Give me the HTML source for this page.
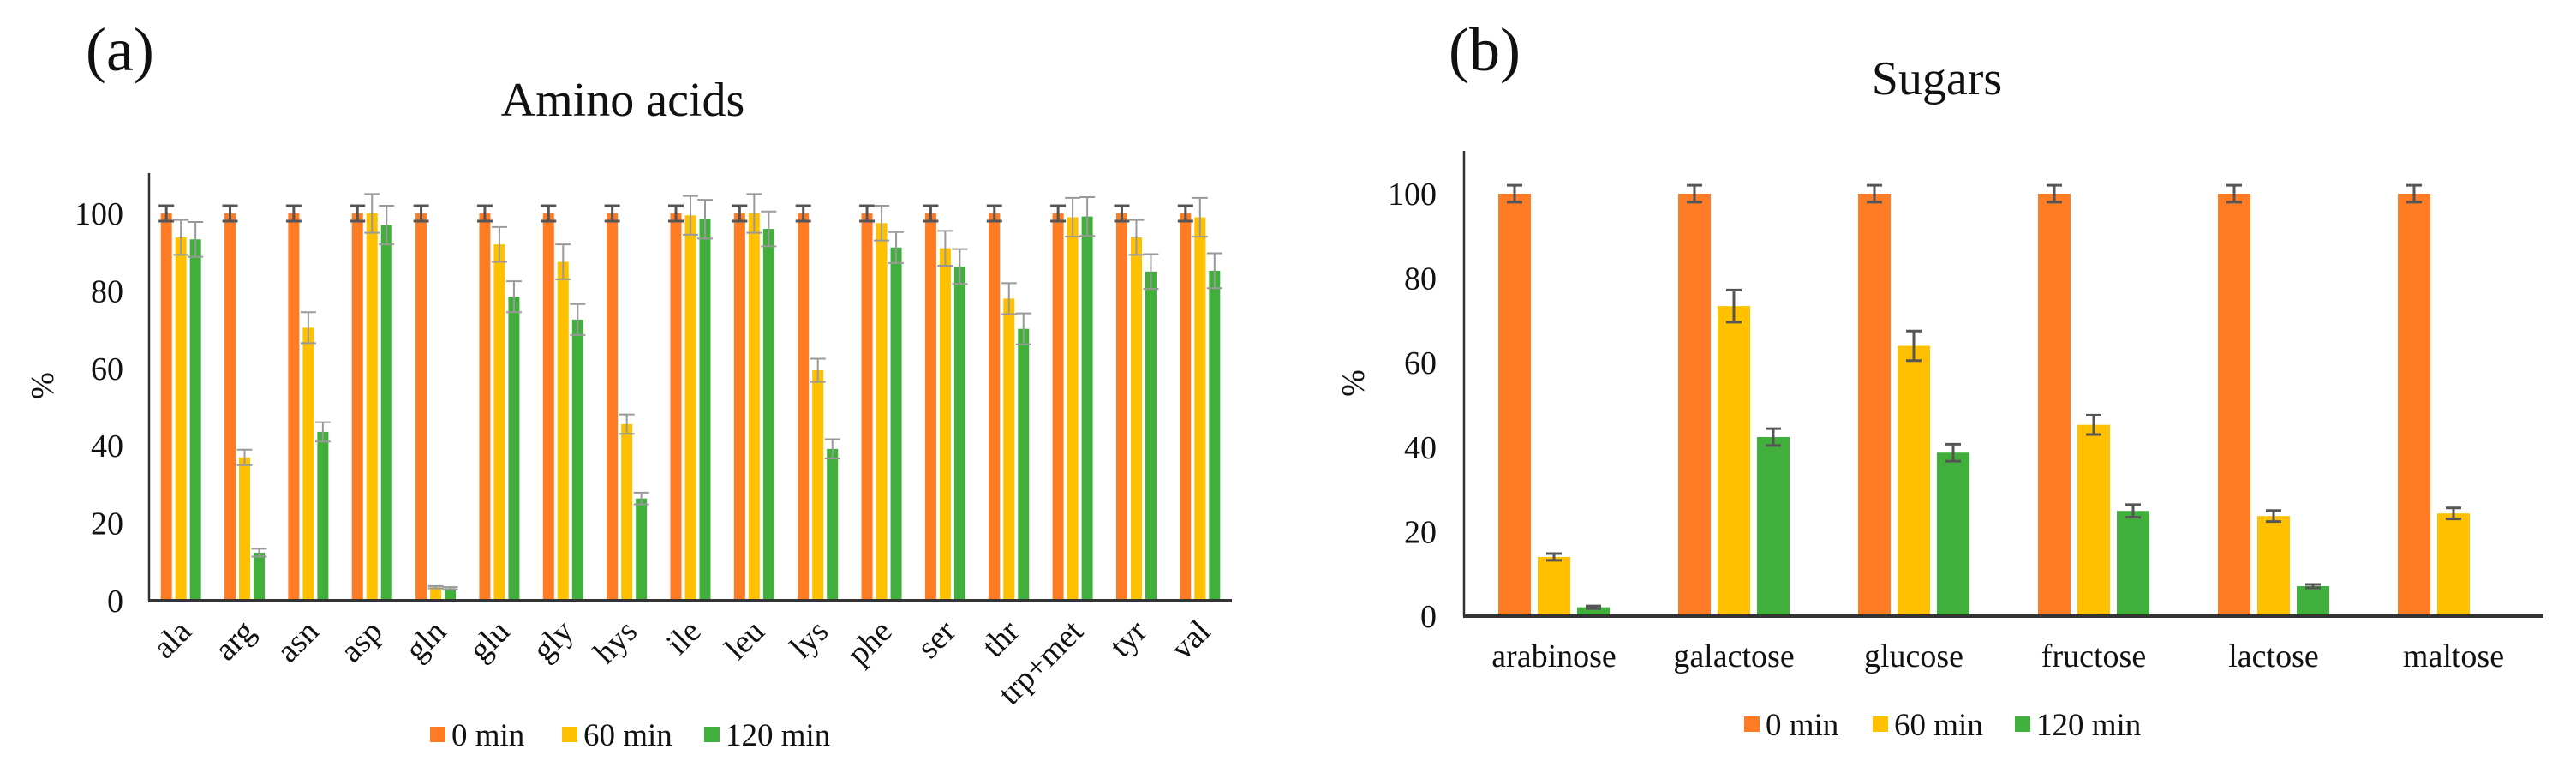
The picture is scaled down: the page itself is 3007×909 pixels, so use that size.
<!DOCTYPE html>
<html><head><meta charset="utf-8"><style>
html,body{margin:0;padding:0;background:#fff;}
svg, svg text{font-family:"Liberation Serif","DejaVu Serif",serif;}
</style></head><body>
<svg id="fig" width="3007" height="904" viewBox="0 0 3007 904" xmlns="http://www.w3.org/2000/svg" font-family="Liberation Serif, DejaVu Serif, serif"></svg>
<script>
const aaCats=["ala","arg","asn","asp","gln","glu","gly","hys","ile","leu","lys","phe","ser","thr","trp+met","tyr","val"];
const aa0=[100,100,100,100,100,100,100,100,100,100,100,100,100,100,100,100,100];
const aa60=[93.8,37,70.5,100,3.5,92,87.5,45.6,99.5,100,59.5,97.5,91,78,99,93.8,99];
const aa120=[93.3,12.4,43.6,97,3.2,78.5,72.6,26.4,98.5,96,39.2,91.2,86.3,70.2,99.2,85,85.2];
const aa0Err=[2,2,2,2,2,2,2,2,2,2,2,2,2,2,2,2,2];
const aa60Err=[4.5,2,4,5,0.3,4.5,4.5,2.5,5,5,3,4.5,4.5,4,5,4.5,5];
const aa120Err=[4.5,1,2.5,5,0.3,4,4,1.5,5,4.5,2.5,4,4.5,4,5,4.5,4.5];
const sgCats=["arabinose","galactose","glucose","fructose","lactose","maltose"];
const sg0=[100,100,100,100,100,100];
const sg60=[14,73.4,64,45.3,23.7,24.3];
const sg120=[2.1,42.4,38.7,24.9,7.1,0];
const sg0Err=[2,2,2,2,2,2];
const sg60Err=[0.8,3.8,3.5,2.3,1.3,1.3];
const sg120Err=[0.3,2,2,1.5,0.4,0];
const yTicks=[0,20,40,60,80,100];
const seriesNames=["0 min","60 min","120 min"];
const colors=["#FF7C24","#FFC000","#41AF3B"];

const NS="http://www.w3.org/2000/svg";
const FONT="Liberation Serif, DejaVu Serif, serif";
const svg=document.getElementById("fig");
function mk(tag,attrs,parent,text){const e=document.createElementNS(NS,tag);for(const k in attrs)e.setAttribute(k,attrs[k]);if(tag==="text")e.setAttribute("font-family",FONT);if(text!==undefined)e.textContent=text;(parent||svg).appendChild(e);return e;}

function chart(cfg){
  const g=mk("g",{});
  
  
  const y=v=>cfg.y0-(v/100)*(cfg.y0-cfg.y100);
  const step=(cfg.x1-cfg.x0)/cfg.cats.length;
  const cx=i=>cfg.x0+step*(i+0.5);
  const t=mk("text",{x:cfg.titleX,y:cfg.titleY,"font-size":56,"text-anchor":"middle",fill:"#111"},g,cfg.title);
  
  
  const p=mk("text",{x:cfg.panelX,y:cfg.panelY,"font-size":72,fill:"#111"},g,cfg.panel);
  
  
  const yl=mk("text",{x:0,y:0,"font-size":38,"text-anchor":"middle",fill:"#111",transform:`translate(${cfg.pctX},${cfg.pctY}) rotate(-90)`},g,"%");
  
  
  yTicks.forEach(v=>{
    const tt=mk("text",{x:cfg.tickX,y:y(v)+13,"font-size":38,"text-anchor":"end",fill:"#111"},g,String(v));
    
    
  });
  const vals=[cfg.s0,cfg.s60,cfg.s120], errs=[cfg.e0,cfg.e60,cfg.e120];
  cfg.cats.forEach((c,i)=>{
    for(let s=0;s<3;s++){
      const v=vals[s][i];
      const bx=cx(i)+(s-1)*cfg.bs-cfg.bw/2;
      if(v>0){
        const r=mk("rect",{x:bx,y:y(v),width:cfg.bw,height:y(0)-y(v),fill:colors[s]},g);
        
        
        const e=errs[s][i];
        if(e>0){
          const m=bx+cfg.bw/2, hw=cfg.cap;
          const eb=mk("path",{d:`M${m},${y(v+e)}V${y(v-e)}M${m-hw},${y(v+e)}H${m+hw}M${m-hw},${y(v-e)}H${m+hw}`,stroke:s===0||cfg.darkErr?"#555":"#999","stroke-width":s===0||cfg.darkErr?3:2,fill:"none"},g);
          
          
        }
      }
    }
    let lab;
    if(cfg.rot){
      lab=mk("text",{x:0,y:0,"font-size":38,"text-anchor":"end",fill:"#111",transform:`translate(${cx(i)+14},${cfg.y0+38}) rotate(-45)`},g,c);
    }else{
      lab=mk("text",{x:cx(i),y:cfg.catY,"font-size":38,"text-anchor":"middle",fill:"#111"},g,c);
    }
    
    
  });
  const ya=mk("line",{x1:cfg.x0,y1:cfg.yTop,x2:cfg.x0,y2:cfg.y0,stroke:"#333","stroke-width":2.5},g);
  
  
  const xa=mk("line",{x1:cfg.x0-1,y1:cfg.y0,x2:cfg.x1,y2:cfg.y0,stroke:"#333","stroke-width":4},g);
  
  
  cfg.leg.forEach((lx,s)=>{
    const lg=mk("g",{},g);
    
    
    mk("rect",{x:lx,y:cfg.legY-9,width:18,height:18,fill:colors[s]},lg);
    mk("text",{x:lx+25,y:cfg.legY+13,"font-size":37,fill:"#111"},lg,seriesNames[s]);
  });
}

chart({name:"amino-acids-chart",title:"Amino acids",titleX:727,titleY:135,panel:"(a)",panelX:100,panelY:82,
  pctX:62,pctY:450,tickX:144,x0:174,x1:1438,y0:701,y100:249,yTop:202,cats:aaCats,
  s0:aa0,s60:aa60,s120:aa120,e0:aa0Err,e60:aa60Err,e120:aa120Err,bw:13,bs:17,cap:9,rot:true,
  legY:857,leg:[502,656,822]});
chart({name:"sugars-chart",title:"Sugars",titleX:2261,titleY:110,panel:"(b)",panelX:1691,panelY:82,
  pctX:1592,pctY:447,tickX:1677,x0:1709,x1:2969,y0:719,y100:226,yTop:176,cats:sgCats,
  s0:sg0,s60:sg60,s120:sg120,e0:sg0Err,e60:sg60Err,e120:sg120Err,bw:38,bs:46,cap:9,rot:false,darkErr:true,
  catY:778,legY:845,leg:[2036,2186,2352]});
</script>
</body></html>
